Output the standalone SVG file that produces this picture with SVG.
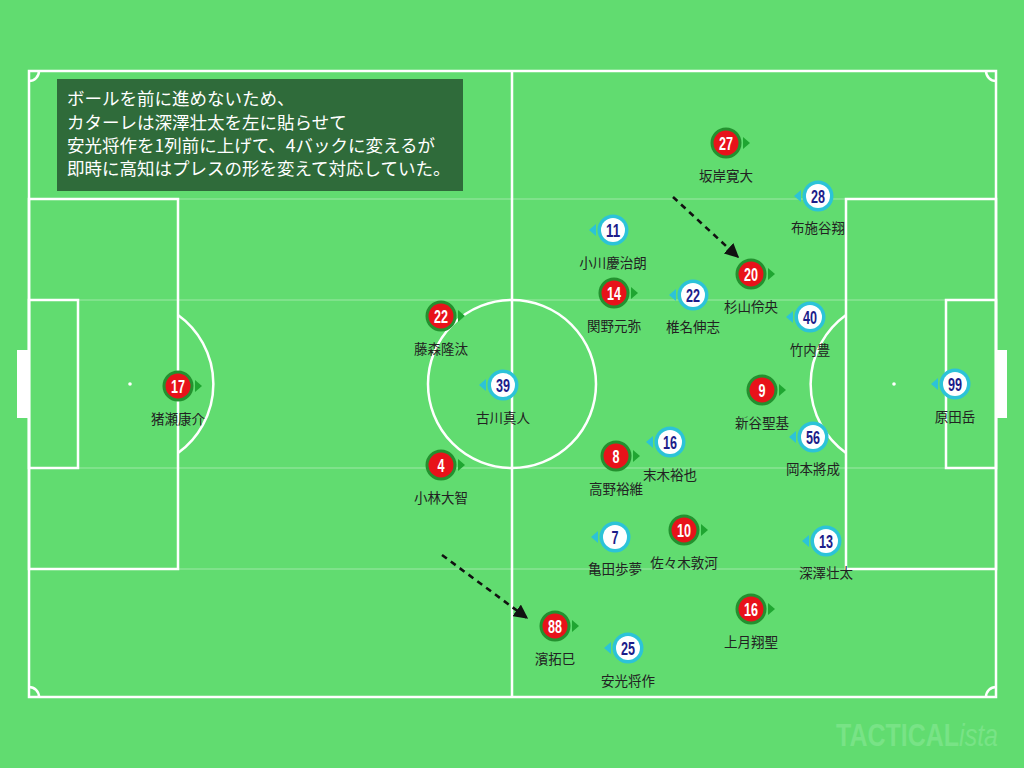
<svg xmlns="http://www.w3.org/2000/svg" width="1024" height="768" viewBox="0 0 1024 768">
<defs>
<style>
.line{fill:none;stroke:#fff;stroke-width:2.5}
.faint{stroke:#9be8a4;stroke-width:1.5;opacity:0.7}
.ring-r{fill:#23912f}
.in-r{fill:#e8121a}
.tri-r{fill:#1fa531}
.ring-w{fill:#2cc3d8}
.in-w{fill:#fff}
.tri-w{fill:#2cc3d8}
.num{font-family:"Liberation Sans","DejaVu Sans",sans-serif;font-weight:bold;font-size:18px;text-anchor:middle}
.num-r{fill:#fff}
.num-w{fill:#1c1d8a}
.lbl{font-family:"Noto Sans CJK JP",sans-serif;font-size:13.5px;fill:#222;text-anchor:middle}
.note{font-family:"Noto Sans CJK JP",sans-serif;font-size:17.5px;fill:#fff}
.arrow{stroke:#111;stroke-width:2.6;stroke-dasharray:6 5;fill:none}
.wm{font-family:"Liberation Sans","DejaVu Sans",sans-serif;font-size:32px;fill:#78e386}
</style>
<marker id="ah" viewBox="0 0 10 10" refX="9" refY="5" markerWidth="5.5" markerHeight="5.5" orient="auto" markerUnits="strokeWidth">
<path d="M0,0 L10,5 L0,10 z" fill="#111"/>
</marker>
<g id="red">
<circle r="15.5" class="ring-r"/>
<circle r="12.5" class="in-r"/>
<path d="M17,-6 L24,0 L17,6 z" class="tri-r"/>
</g>
<g id="white">
<circle r="15.5" class="ring-w"/>
<circle r="12" class="in-w"/>
<path d="M-17,-6 L-24,0 L-17,6 z" class="tri-w"/>
</g>
</defs>
<rect width="1024" height="768" fill="#61dc70"/>
<g id="pitch">
<line x1="29" y1="199" x2="995" y2="199" class="faint"/>
<line x1="29" y1="300" x2="995" y2="300" class="faint"/>
<line x1="29" y1="468" x2="995" y2="468" class="faint"/>
<line x1="29" y1="569" x2="995" y2="569" class="faint"/>
<rect x="17" y="350" width="11" height="68" fill="#fff"/>
<rect x="996" y="350" width="11" height="68" fill="#fff"/>
<rect x="29" y="71" width="967" height="626" class="line"/>
<line x1="512" y1="71" x2="512" y2="697" class="line"/>
<circle cx="512" cy="384" r="84" class="line"/>
<rect x="29" y="199" width="149" height="370" class="line"/>
<rect x="29" y="300" width="49" height="168" class="line"/>
<rect x="846" y="199" width="150" height="370" class="line"/>
<rect x="946" y="300" width="50" height="168" class="line"/>
<circle cx="130" cy="384" r="1.8" fill="#fff"/>
<circle cx="894" cy="384" r="1.8" fill="#fff"/>
<path d="M178,315 A85,85 0 0 1 178,453" class="line"/>
<path d="M846,315 A85,85 0 0 0 846,453" class="line"/>
<path d="M29,81 A10,10 0 0 0 39,71" class="line"/>
<path d="M986,71 A10,10 0 0 0 996,81" class="line"/>
<path d="M29,687 A10,10 0 0 1 39,697" class="line"/>
<path d="M986,697 A10,10 0 0 1 996,687" class="line"/>
</g>
<g id="note">
<rect x="57" y="79" width="406" height="112" fill="#2f6b3a"/>
<text class="note" x="67" y="105">ボールを前に進めないため、</text>
<text class="note" x="67" y="129">カターレは深澤壮太を左に貼らせて</text>
<text class="note" x="67" y="152">安光将作を1列前に上げて、4バックに変えるが</text>
<text class="note" x="67" y="175">即時に高知はプレスの形を変えて対応していた。</text>
</g>
<g id="connectors">
<line x1="673" y1="197" x2="738" y2="257" class="arrow" marker-end="url(#ah)"/>
<line x1="442" y1="555" x2="527" y2="618" class="arrow" marker-end="url(#ah)"/>
</g>
<g id="p-r27"><use href="#red" x="726" y="143"/><text class="num num-r" x="726" y="150" textLength="14" lengthAdjust="spacingAndGlyphs">27</text><text class="lbl" x="726" y="181">坂岸寛大</text></g>
<g id="p-r20"><use href="#red" x="751" y="274"/><text class="num num-r" x="751" y="281" textLength="14" lengthAdjust="spacingAndGlyphs">20</text><text class="lbl" x="751" y="312">杉山伶央</text></g>
<g id="p-r14"><use href="#red" x="614" y="293"/><text class="num num-r" x="614" y="300" textLength="14" lengthAdjust="spacingAndGlyphs">14</text><text class="lbl" x="614" y="331">関野元弥</text></g>
<g id="p-r22"><use href="#red" x="441" y="316"/><text class="num num-r" x="441" y="323" textLength="14" lengthAdjust="spacingAndGlyphs">22</text><text class="lbl" x="441" y="354">藤森隆汰</text></g>
<g id="p-r17"><use href="#red" x="178" y="386"/><text class="num num-r" x="178" y="393" textLength="14" lengthAdjust="spacingAndGlyphs">17</text><text class="lbl" x="178" y="424">猪瀬康介</text></g>
<g id="p-r9"><use href="#red" x="762" y="390"/><text class="num num-r" x="762" y="397" textLength="7" lengthAdjust="spacingAndGlyphs">9</text><text class="lbl" x="762" y="428">新谷聖基</text></g>
<g id="p-r8"><use href="#red" x="616" y="456"/><text class="num num-r" x="616" y="463" textLength="7" lengthAdjust="spacingAndGlyphs">8</text><text class="lbl" x="616" y="494">高野裕維</text></g>
<g id="p-r4"><use href="#red" x="441" y="465"/><text class="num num-r" x="441" y="472" textLength="7" lengthAdjust="spacingAndGlyphs">4</text><text class="lbl" x="441" y="503">小林大智</text></g>
<g id="p-r10"><use href="#red" x="684" y="530"/><text class="num num-r" x="684" y="537" textLength="14" lengthAdjust="spacingAndGlyphs">10</text><text class="lbl" x="684" y="568">佐々木敦河</text></g>
<g id="p-r88"><use href="#red" x="555" y="626"/><text class="num num-r" x="555" y="633" textLength="14" lengthAdjust="spacingAndGlyphs">88</text><text class="lbl" x="555" y="664">濱拓巳</text></g>
<g id="p-r16"><use href="#red" x="751" y="609"/><text class="num num-r" x="751" y="616" textLength="14" lengthAdjust="spacingAndGlyphs">16</text><text class="lbl" x="751" y="647">上月翔聖</text></g>
<g id="p-w28"><use href="#white" x="818" y="196"/><text class="num num-w" x="818" y="203" textLength="14" lengthAdjust="spacingAndGlyphs">28</text><text class="lbl" x="818" y="233">布施谷翔</text></g>
<g id="p-w11"><use href="#white" x="613" y="230"/><text class="num num-w" x="613" y="237" textLength="14" lengthAdjust="spacingAndGlyphs">11</text><text class="lbl" x="613" y="268">小川慶治朗</text></g>
<g id="p-w22"><use href="#white" x="693" y="295"/><text class="num num-w" x="693" y="302" textLength="14" lengthAdjust="spacingAndGlyphs">22</text><text class="lbl" x="693" y="332">椎名伸志</text></g>
<g id="p-w40"><use href="#white" x="810" y="317"/><text class="num num-w" x="810" y="324" textLength="14" lengthAdjust="spacingAndGlyphs">40</text><text class="lbl" x="810" y="355">竹内豊</text></g>
<g id="p-w39"><use href="#white" x="503" y="385"/><text class="num num-w" x="503" y="392" textLength="14" lengthAdjust="spacingAndGlyphs">39</text><text class="lbl" x="503" y="423">古川真人</text></g>
<g id="p-w99"><use href="#white" x="955" y="384"/><text class="num num-w" x="955" y="391" textLength="14" lengthAdjust="spacingAndGlyphs">99</text><text class="lbl" x="955" y="422">原田岳</text></g>
<g id="p-w56"><use href="#white" x="813" y="437"/><text class="num num-w" x="813" y="444" textLength="14" lengthAdjust="spacingAndGlyphs">56</text><text class="lbl" x="813" y="474">岡本將成</text></g>
<g id="p-w16"><use href="#white" x="670" y="442"/><text class="num num-w" x="670" y="449" textLength="14" lengthAdjust="spacingAndGlyphs">16</text><text class="lbl" x="670" y="480">末木裕也</text></g>
<g id="p-w7"><use href="#white" x="615" y="537"/><text class="num num-w" x="615" y="544" textLength="7" lengthAdjust="spacingAndGlyphs">7</text><text class="lbl" x="615" y="574">亀田歩夢</text></g>
<g id="p-w13"><use href="#white" x="826" y="541"/><text class="num num-w" x="826" y="548" textLength="14" lengthAdjust="spacingAndGlyphs">13</text><text class="lbl" x="826" y="578">深澤壮太</text></g>
<g id="p-w25"><use href="#white" x="628" y="648"/><text class="num num-w" x="628" y="655" textLength="14" lengthAdjust="spacingAndGlyphs">25</text><text class="lbl" x="628" y="686">安光将作</text></g>
<g id="watermark">
<text class="wm" x="836" y="746" font-weight="bold" textLength="162" lengthAdjust="spacingAndGlyphs">TACTICAL<tspan font-style="italic" font-weight="normal">ista</tspan></text>
</g>
</svg>
